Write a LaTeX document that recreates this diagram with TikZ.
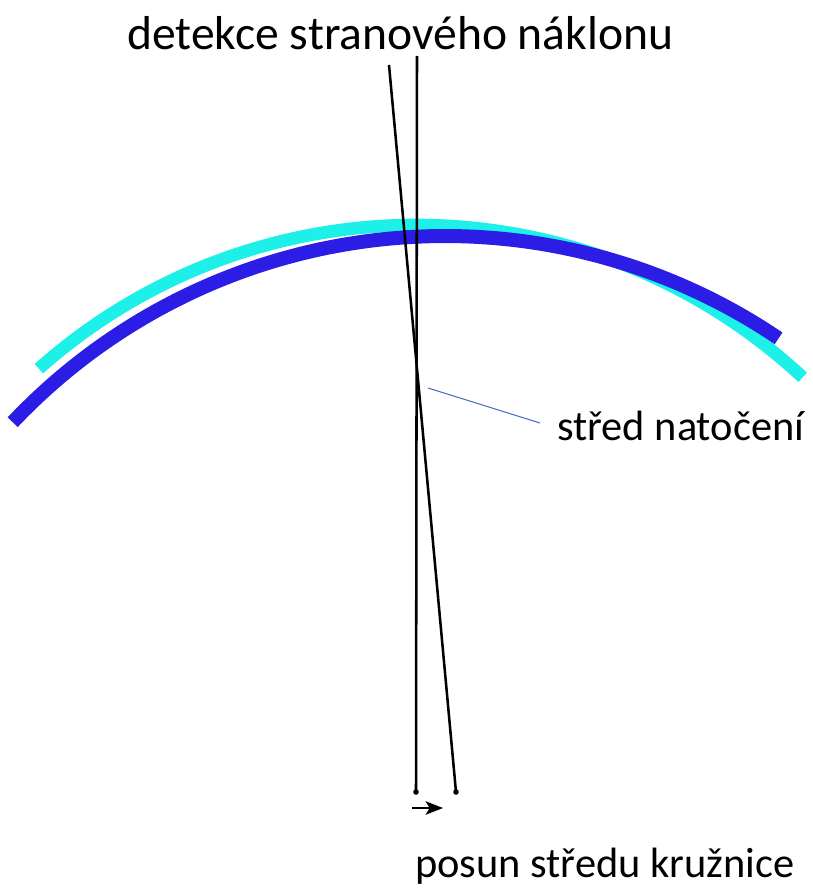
\documentclass[tikz,border=0pt]{standalone}
\usepackage{fontspec}
\setmainfont{Carlito}
\usetikzlibrary{arrows.meta}
\definecolor{arccyan}{RGB}{28,240,232}
\definecolor{arcblue}{RGB}{43,28,230}
\definecolor{leadblue}{RGB}{68,114,196}
\begin{document}
\begin{tikzpicture}[x=0.75pt,y=-0.75pt,
  blackline/.style={draw=black,line width=1.9pt},
  dotmark/.style={circle,fill=black,inner sep=0pt,minimum size=4.2pt},
  lbl/.style={inner sep=0pt,anchor=base west,font=\fontsize{31.8pt}{36pt}\selectfont},
  ttl/.style={inner sep=0pt,anchor=base west,font=\fontsize{35.7pt}{40pt}\selectfont}]
\useasboundingbox (0,0) rectangle (813,892);
% arcs
\draw[arccyan,line width=9.5pt] plot[domain=228.3:313.0,samples=120,smooth] ({416+567*cos(\x)},{792+567*sin(\x)});
\draw[arcblue,line width=10.5pt] plot[domain=223.4:304.1,samples=120,smooth] ({445+595*cos(\x)},{831+595*sin(\x)});
% texts
\node[ttl] (title) at (127,50) {detekce stranového náklonu};
\node[lbl] (natoceni) at (557,440) {střed natočení};
\node[lbl] (posun) at (415,877) {posun středu kružnice};
% lines
\coordinate (v1) at (417,56);
\coordinate (t1) at (389,65);
\node[dotmark] (v2) at (416,792) {};
\node[dotmark] (t2) at (456,792) {};
\draw[blackline] (v1) -- (v2.center);
\draw[blackline] (t1) -- (t2.center);
% leader
\coordinate (rc) at (428,388);
\coordinate (le) at (540,423);
\draw[leadblue,line width=0.8pt] (rc) -- (le);
% shift arrow
\coordinate (a1) at (412,808);
\coordinate (a2) at (443,808);
\draw[black,line width=2pt,-{Stealth[length=13pt,width=10pt,inset=3pt]}] (a1) -- (a2);
\end{tikzpicture}
\end{document}
